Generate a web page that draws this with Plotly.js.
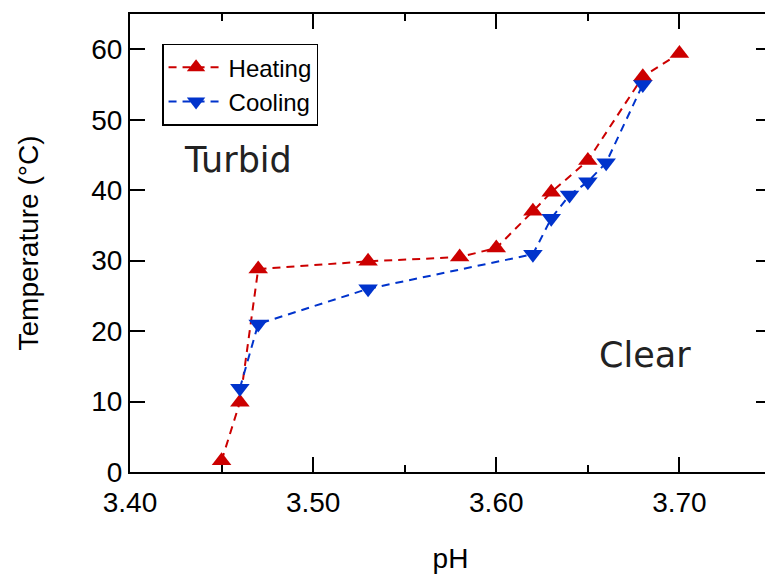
<!DOCTYPE html>
<html>
<head>
<meta charset="utf-8">
<script src="https://cdn.plot.ly/plotly-3.0.1.min.js"></script>
<style>
html, body { margin: 0; padding: 0; overflow: hidden; background: #fff; }
#chart { width: 780px; height: 574px; }
</style>
</head>
<body>
<div id="chart"></div>
<script>
// Heating series
var heatingPH   = [3.45, 3.46, 3.47, 3.53, 3.58, 3.60, 3.62, 3.63, 3.65, 3.68, 3.70];
var heatingTemp = [1.6, 9.9, 28.8, 29.9, 30.5, 31.8, 37.0, 39.7, 44.2, 56.1, 59.4];
// Cooling series
var coolingPH   = [3.46, 3.47, 3.53, 3.62, 3.63, 3.64, 3.65, 3.66, 3.68];
var coolingTemp = [11.9, 21.0, 26.0, 30.9, 36.0, 39.3, 41.2, 43.9, 55.0];
// Region labels
var regionText = ["Turbid", "Clear"];
var regionPH   = [3.459, 3.681];
var regionTemp = [44.3, 16.6];

var red = '#cc0000', blue = '#0033cc';
var sans = 'Liberation Sans, Arial, sans-serif';

var traces = [
  { x: heatingPH, y: heatingTemp, name: 'Heating', type: 'scatter', mode: 'lines+markers',
    line: { color: red, width: 2, dash: '8px,6px' },
    marker: { symbol: 'triangle-up', size: 17, color: red } },
  { x: coolingPH, y: coolingTemp, name: 'Cooling', type: 'scatter', mode: 'lines+markers',
    line: { color: blue, width: 2, dash: '8px,6px' },
    marker: { symbol: 'triangle-down', size: 17, color: blue } }
];

var annotations = regionText.map(function (t, i) {
  return { x: regionPH[i], y: regionTemp[i], text: t, showarrow: false,
           xanchor: 'center', yanchor: 'middle',
           font: { family: 'DejaVu Sans', size: 35, color: '#222' } };
});

var axisCommon = {
  showline: true, linecolor: '#000', linewidth: 2, mirror: 'allticks',
  ticks: 'inside', ticklen: 15, tickwidth: 2, tickcolor: '#000',
  showgrid: false, zeroline: false,
  tickfont: { family: sans, size: 28, color: '#000' }
};

var layout = {
  width: 780, height: 574,
  margin: { l: 130, r: 9, t: 14, b: 102 },
  paper_bgcolor: '#fff', plot_bgcolor: '#fff',
  showlegend: true,
  legend: {
    x: 0.05, y: 0.935, xanchor: 'left', yanchor: 'top',
    bgcolor: '#fff', bordercolor: '#000', borderwidth: 1.5,
    font: { family: sans, size: 24, color: '#000' },
    tracegroupgap: 0, itemwidth: 55
  },
  xaxis: Object.assign({}, axisCommon, {
    range: [3.40, 3.75], tick0: 3.40, dtick: 0.1, tickformat: '.2f',
    ticklabelstandoff: 4,
    minor: { dtick: 0.05, ticks: 'inside', ticklen: 7, tickwidth: 2, tickcolor: '#000' },
    title: { text: 'pH', standoff: 39, font: { family: sans, size: 28, color: '#000' } }
  }),
  yaxis: Object.assign({}, axisCommon, {
    range: [0, 65], tick0: 0, dtick: 10,
    title: { text: 'Temperature (°C)', standoff: 44, font: { family: sans, size: 28, color: '#000' } }
  }),
  annotations: annotations
};

Plotly.newPlot('chart', traces, layout, { displayModeBar: false, staticPlot: true });
</script>
</body>
</html>
